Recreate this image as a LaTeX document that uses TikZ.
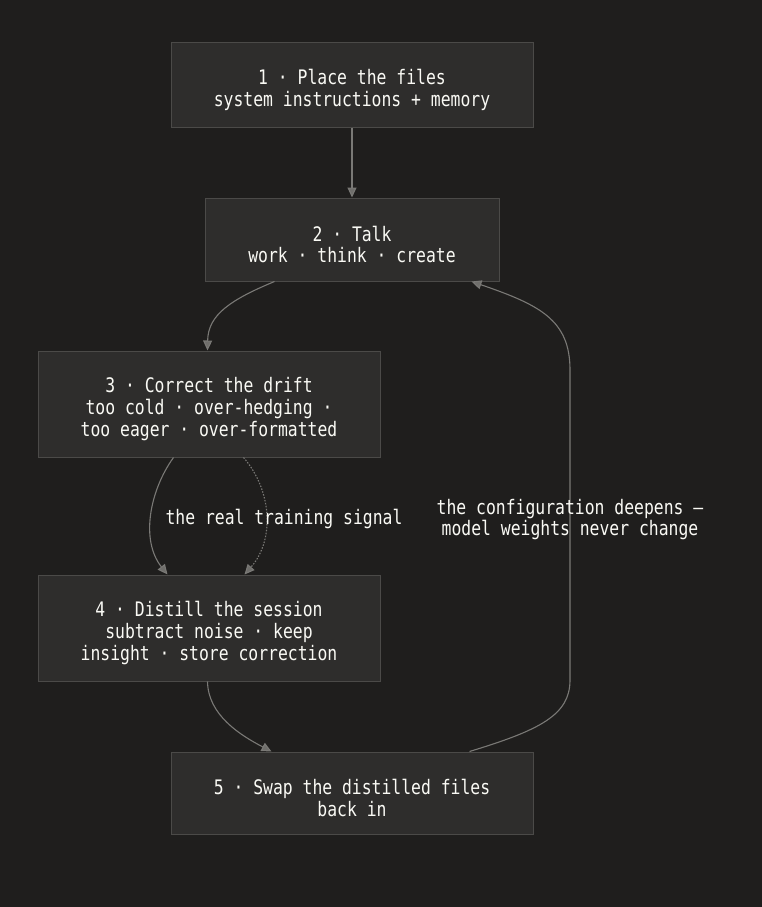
\documentclass[tikz,border=0pt]{standalone}
\usepackage{fontspec}
\usetikzlibrary{arrows.meta}
\newfontfamily\monof[FakeStretch=0.82]{DejaVu Sans Mono}
\definecolor{bgc}{HTML}{1F1E1D}
\definecolor{boxfill}{HTML}{2E2D2C}
\definecolor{boxline}{HTML}{4B4A48}
\definecolor{edgec}{HTML}{7A7976}
\definecolor{tipc}{HTML}{6F6E6B}
\definecolor{txtc}{HTML}{FAFAF5}
\newcommand\toppad{\rule{0pt}{25pt}}
\tikzset{
  stepbox/.style={draw=boxline, line width=1pt, fill=boxfill, inner sep=0pt,
    align=center, text=txtc, font=\monof\fontsize{20}{21.7}\selectfont},
  lbl/.style={inner sep=0pt, align=center, text=txtc, font=\monof\fontsize{20}{21.5}\selectfont},
  conn/.style={draw=edgec, line width=1.1pt, -{Triangle[length=10pt,width=9pt,fill=tipc]}},
}
\begin{document}
\begin{tikzpicture}[x=1pt,y=-1pt]
\fill[bgc] (0,0) rectangle (762,907);
\useasboundingbox (0,0) rectangle (762,907);

\node[stepbox, minimum width=362pt, minimum height=84pt] (n1) at (352,85) {\toppad 1 · Place the files\\system instructions + memory};
\node[stepbox, minimum width=294pt, minimum height=83pt] (n2) at (352,239.5) {\toppad 2 · Talk\\work · think · create};
\node[stepbox, minimum width=342pt, minimum height=106pt] (n3) at (209,404) {\toppad 3 · Correct the drift\\too cold · over-hedging ·\\too eager · over-formatted};
\node[stepbox, minimum width=342pt, minimum height=106pt] (n4) at (209,628) {\toppad 4 · Distill the session\\subtract noise · keep\\insight · store correction};
\node[stepbox, minimum width=362pt, minimum height=82pt] (n5) at (352,793) {\toppad 5 · Swap the distilled files\\back in};

\draw[conn] (n1.south) -- (n2.north);
\draw[conn] ([xshift=70pt]n2.south west) .. controls (230,300) and (208,315) .. ([xshift=170pt]n3.north west);
\draw[conn] ([xshift=136pt]n3.south west) .. controls (150,490) and (140,540) .. ([xshift=130pt]n4.north west);
\draw[conn, dash pattern=on 1.5pt off 1.5pt] ([xshift=206pt]n3.south west) .. controls (272,490) and (275,540) .. ([xshift=207pt]n4.north west);
\draw[conn] ([xshift=170pt]n4.south west) .. controls (208,715) and (240,735) .. ([xshift=101pt]n5.north west);
\coordinate (bend1) at (570,680);
\coordinate (bend2) at (570,370);
\draw[conn] ([xshift=299pt]n5.north west) .. controls (540,730) and (570,715) .. (bend1) -- (bend2) .. controls (570,320) and (540,305) .. ([xshift=267pt]n2.south west);

\node[lbl] (l1) at (284,519) {the real training signal};
\node[lbl] (l2) at (570,519.5) {the configuration deepens —\\model weights never change};
\end{tikzpicture}
\end{document}
